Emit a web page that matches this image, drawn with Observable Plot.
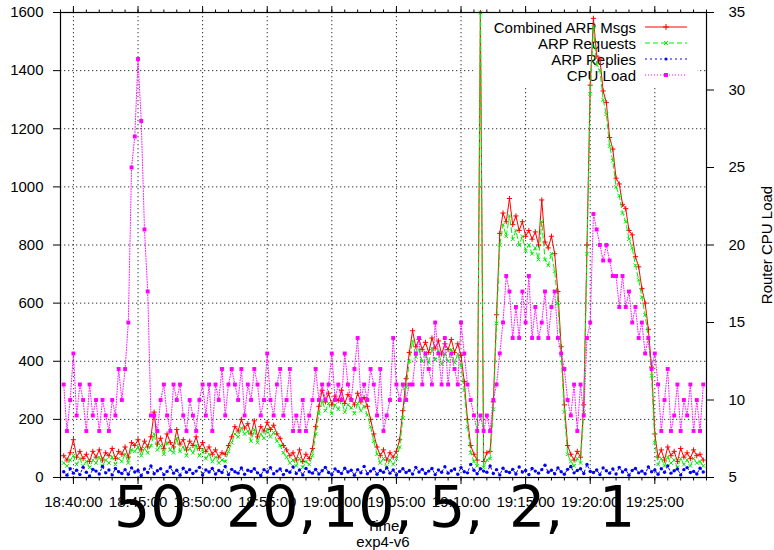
<!DOCTYPE html>
<html><head><meta charset="utf-8">
<script src="https://cdn.jsdelivr.net/npm/d3@7"></script>
<script src="https://cdn.jsdelivr.net/npm/@observablehq/plot@0.6"></script>
<style>
body{margin:0;background:#fff;}
#wrap{width:774px;height:550px;}
</style></head><body><div id="wrap"></div>
<script>
// ---- data (15 s samples starting 18:39:15) ----
const startTime = "18:39:15";
const stepSeconds = 15;
const combined = [75,60,85,130,70,90,65,80,55,90,70,95,60,85,75,100,65,90,80,105,70,120,
110,130,95,125,105,140,225,115,135,100,150,120,105,165,115,130,95,125,110,140,100,120,90,105,80,95,70,85,80,
110,140,175,160,200,170,185,150,195,140,175,160,190,165,180,150,135,110,95,75,85,60,95,55,80,65,100,175,245,
300,260,290,250,280,265,300,255,285,270,250,290,260,275,245,200,150,105,75,95,60,85,70,90,130,230,340,430,
505,450,475,440,465,430,480,445,470,425,460,440,475,430,460,420,330,200,110,80,60,1600,55,85,90,260,560,840,
910,880,960,870,900,850,880,830,850,820,845,800,955,810,790,830,770,640,450,250,110,80,60,90,70,250,800,1350,
1580,1450,1440,1330,1290,1170,1130,1030,1010,940,925,850,835,760,725,650,600,510,380,150,70,95,60,105,75,90,55,100,70,85,65,95,75,80,60];
const requests = [50,40,60,75,45,65,40,55,35,60,50,70,40,60,50,70,45,65,55,80,50,95,
90,105,75,100,85,110,150,95,110,80,120,95,85,135,90,105,75,100,85,110,75,95,65,80,55,70,50,60,55,
90,120,150,140,170,150,160,125,165,120,150,135,165,140,155,125,110,85,70,50,60,40,65,35,55,45,75,150,220,
265,230,255,220,250,235,265,225,250,240,220,255,230,245,215,175,125,80,50,65,35,60,45,65,105,205,310,400,
470,415,440,400,430,395,445,405,435,390,425,400,440,395,425,385,300,175,85,55,40,1600,35,60,65,235,530,800,
870,830,900,820,850,800,830,780,800,770,790,750,880,750,730,770,710,600,420,225,80,55,40,65,50,225,770,1320,
1550,1420,1400,1300,1250,1140,1090,1000,970,910,880,820,790,730,680,620,560,480,350,120,45,65,40,70,50,60,35,65,45,60,40,65,50,55,40];
const replies = [20,8,30,15,25,10,35,18,5,28,22,12,38,16,26,9,31,20,14,27,
11,33,19,24,7,29,17,40,13,23,30,10,21,36,15,25,8,32,18,27,
14,22,35,9,26,19,31,12,24,17,38,10,28,20,15,33,11,25,21,30,
16,7,27,19,34,13,22,29,10,24,18,36,14,26,9,31,20,15,28,12,
23,35,17,10,29,21,14,32,19,25,8,27,16,38,13,22,30,11,24,18,
33,15,26,9,21,30,17,24,12,35,19,28,14,22,31,10,26,18,37,15,
23,29,11,34,20,16,45,25,13,30,22,18,40,14,27,9,32,21,17,28,
12,36,19,24,10,31,22,15,27,42,18,25,13,33,20,11,28,38,16,24,
30,14,45,21,17,26,10,33,23,15,29,12,35,19,27,8,24,31,16,22,
13,36,20,26,11,30,18,40,15,23,29,9,27,34,17,21,12,32,19];
const cpuLoad = [11,8,10,13,9,11,10,8,11,9,10,8,10,9,8,10,9,12,10,12,
15,25,27,32,28,21,17,
9,9,8,10,11,9,8,11,10,11,9,8,10,9,8,10,11,9,11,8,11,10,12,9,11,12,11,10,12,9,11,10,12,11,9,10,
13,10,9,11,12,9,10,12,8,9,8,10,8,9,10,12,10,11,
10,11,13,10,11,10,13,11,10,12,14,10,11,10,12,11,
9,12,8,9,10,14,11,10,11,10,11,
11,13,14,11,13,12,11,15,13,11,14,11,13,12,11,15,
13,11,10,9,8,9,8,9,8,10,11,13,
15,18,17,14,16,14,17,15,18,14,16,14,15,17,14,16,17,
14,13,12,10,9,11,8,11,9,14,15,
22,21,20,19,20,19,18,18,16,18,16,17,15,16,14,15,13,14,12,13,11,
8,10,12,8,9,11,8,10,9,11,8,10,8,11];
const timeTicks = ["18:40:00","18:45:00","18:50:00","18:55:00","19:00:00","19:05:00","19:10:00","19:15:00","19:20:00","19:25:00"];
const timeDomain = ["18:39:00","19:29:00"];
const countTicks = [0,200,400,600,800,1000,1200,1400,1600];
const cpuTicks = [5,10,15,20,25,30,35];
const cpuRange = [5,35];
const countRange = [0,1600];
const seriesNames = ["Combined ARP Msgs","ARP Requests","ARP Replies","CPU Load"];
const overlayWords = ["50","20,","10,","5,","2,","1"];

// ---- helpers ----
const T = s => { const [h,m,x] = s.split(":").map(Number); return new Date(Date.UTC(2010,0,1,h,m,x)); };
const cpuToY = c => (c - cpuRange[0]) / (cpuRange[1] - cpuRange[0]) * (countRange[1] - countRange[0]);
const yToCpu = v => v / (countRange[1] - countRange[0]) * (cpuRange[1] - cpuRange[0]) + cpuRange[0];
const t0 = T(startTime);
const rows = combined.map((v, i) => ({
  t: new Date(+t0 + i * stepSeconds * 1000),
  combined: v, requests: requests[i], replies: replies[i], cpu: cpuToY(cpuLoad[i])
}));
const majorTimes = timeTicks.map(T);
const minorTimes = d3.utcMinute.range(T(timeDomain[0]), new Date(+T(timeDomain[1]) + 1));

const RED = "#ff0000", GREEN = "#00ee00", BLUE = "#0000ff", MAG = "#ff00ff";

// legend (drawn under the data, with an opaque box)
function legendMark() {
  const g = d3.create("svg:g");
  g.append("rect").attr("x", 473).attr("y", 14).attr("width", 224).attr("height", 72).attr("fill", "white");
  const styles = [
    {c: RED, dash: null, sym: "plus"},
    {c: GREEN, dash: "5,3", sym: "times"},
    {c: BLUE, dash: "2,3", sym: "dot"},
    {c: MAG, dash: "1,2", sym: "square"}
  ];
  seriesNames.forEach((name, k) => {
    const yc = 27 + k * 16;
    g.append("text").attr("x", 636).attr("y", yc + 5.5).attr("text-anchor", "end")
      .attr("fill", "black").text(name);
    const ln = g.append("line").attr("x1", 645).attr("x2", 687).attr("y1", yc).attr("y2", yc)
      .attr("stroke", styles[k].c).attr("stroke-width", 1);
    if (styles[k].dash) ln.attr("stroke-dasharray", styles[k].dash);
    const s = styles[k];
    if (s.sym === "plus") g.append("path").attr("d", `M663,${yc}h6M666,${yc-3}v6`).attr("stroke", s.c);
    if (s.sym === "times") g.append("path").attr("d", `M664,${yc-2}l4,4M664,${yc+2}l4,-4`).attr("stroke", s.c);
    if (s.sym === "dot") g.append("circle").attr("cx", 666).attr("cy", yc).attr("r", 1.6).attr("fill", s.c);
    if (s.sym === "square") g.append("rect").attr("x", 664).attr("y", yc - 2).attr("width", 4).attr("height", 4).attr("fill", s.c);
  });
  return g.node();
}

const plot = Plot.plot({
  width: 774, height: 550,
  marginLeft: 60, marginRight: 68, marginTop: 12, marginBottom: 73,
  style: {fontFamily: "'Liberation Sans', Arial, Helvetica, sans-serif", fontSize: "15px", background: "white", color: "black", overflow: "visible"},
  x: {type: "utc", domain: timeDomain.map(T), label: null},
  y: {domain: countRange, label: null},
  marks: [
    Plot.gridX(majorTimes, {stroke: "#000", strokeOpacity: 0.8, strokeDasharray: "1.3,2.7"}),
    Plot.gridY(countTicks.slice(1, -1), {stroke: "#000", strokeOpacity: 0.8, strokeDasharray: "1.3,2.7"}),
    legendMark,
    Plot.line(rows, {x: "t", y: "combined", stroke: RED, strokeWidth: 1}),
    Plot.dot(rows, {x: "t", y: "combined", symbol: "plus", r: 1.8, stroke: RED, strokeWidth: 1}),
    Plot.line(rows, {x: "t", y: "requests", stroke: GREEN, strokeWidth: 1, strokeDasharray: "5,3"}),
    Plot.dot(rows, {x: "t", y: "requests", symbol: "times", r: 1.8, stroke: GREEN, strokeWidth: 1}),
    Plot.line(rows, {x: "t", y: "replies", stroke: BLUE, strokeWidth: 1, strokeDasharray: "2,3"}),
    Plot.dot(rows, {x: "t", y: "replies", r: 1.7, fill: BLUE, stroke: null}),
    Plot.line(rows, {x: "t", y: "cpu", stroke: MAG, strokeWidth: 0.9, strokeDasharray: "1,1.6"}),
    Plot.dot(rows, {x: "t", y: "cpu", symbol: "square", r: 2.2, fill: MAG, stroke: null}),
    Plot.frame({stroke: "#000", strokeWidth: 1.2}),
    Plot.axisX(minorTimes, {anchor: "bottom", tickSize: 3.5, tickFormat: () => "", label: null}),
    Plot.axisX(majorTimes, {anchor: "bottom", tickSize: 7, tickPadding: 12, tickFormat: d3.utcFormat("%H:%M:%S"), label: null}),
    Plot.axisX(minorTimes, {anchor: "top", tickSize: 3.5, tickFormat: () => "", label: null}),
    Plot.axisX(majorTimes, {anchor: "top", tickSize: 7, tickFormat: () => "", label: null}),
    Plot.axisY(countTicks, {anchor: "left", tickSize: 7, tickPadding: 10, tickFormat: d => String(d), label: null}),
    Plot.axisY(cpuTicks.map(cpuToY), {anchor: "right", tickSize: 7, tickPadding: 15, tickFormat: v => String(Math.round(yToCpu(v))), label: null})
  ]
});

const svg = d3.select(plot);
svg.append("text").attr("x", 383).attr("y", 531).attr("text-anchor", "middle").attr("fill", "black").text("Time");
svg.append("text").attr("x", 383).attr("y", 547).attr("text-anchor", "middle").attr("fill", "black").text("exp4-v6");
svg.append("text").attr("transform", "translate(772,245) rotate(-90)").attr("text-anchor", "middle").attr("fill", "black").text("Router CPU Load");
const bigX = [114, 226, 322, 429, 509, 599];
overlayWords.forEach((w, k) => {
  svg.append("text").attr("x", bigX[k]).attr("y", 527).attr("text-anchor", "start")
    .style("font-family", "'DejaVu Sans', sans-serif").style("font-size", "57px")
    .attr("fill", "black").text(w);
});
document.getElementById("wrap").appendChild(plot);
</script>
</body></html>
